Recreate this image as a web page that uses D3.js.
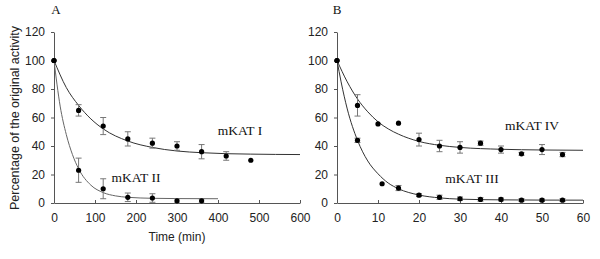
<!DOCTYPE html>
<html><head><meta charset="utf-8">
<script src="https://cdn.jsdelivr.net/npm/d3@7"></script>
<style>body{margin:0;background:#fff}svg{display:block}</style>
</head><body>
<svg id="c" width="600" height="259"></svg>
<script>
// Panel A data (time in min)
const timeA1 = [0, 60, 120, 180, 240, 300, 360, 420, 480];
const kat1 = [100, 65, 54, 45, 42, 40, 36, 33, 30];
const kat1Err = [0, 4, 6, 5, 3.5, 3, 5, 3, 0];
const timeA2 = [0, 60, 120, 180, 240, 300, 360];
const kat2 = [100, 23, 10, 4, 3.5, 1.5, 1.5];
const kat2Err = [0, 8.5, 7, 3, 3, 1.5, 1.5];
// fitted curves
const fitA1T = [0, 30, 60, 90, 120, 180, 240, 300, 360, 420, 480, 540, 600];
const fitA1V = [100, 81, 68.5, 59, 52, 43.5, 39, 36.5, 35.3, 34.6, 34.3, 34.1, 34];
const fitA2T = [0, 15, 30, 45, 60, 90, 120, 150, 180, 240, 300, 400];
const fitA2V = [100, 68, 48, 34, 24, 12.5, 7.3, 5, 4, 3.3, 3.1, 3];
// Panel B data
const timeB4 = [0, 5, 10, 15, 20, 25, 30, 35, 40, 45, 50, 55];
const kat4 = [100, 68.5, 55.5, 56, 44.5, 40, 39, 42, 37.5, 34.5, 37.5, 34];
const kat4Err = [0, 7.5, 0, 0, 4.5, 4, 4, 1.5, 2.5, 1, 3.5, 1.5];
const timeB3 = [0, 5, 11, 15, 20, 25, 30, 35, 40, 45, 50, 55];
const kat3 = [100, 44, 13.5, 10.5, 5.5, 4, 3, 2.5, 2.5, 2, 2, 2];
const kat3Err = [0, 1.5, 0, 1.8, 1, 1.5, 1.2, 1.2, 1, 1, 0.8, 1];
const fitB4T = [0, 2.5, 5, 7.5, 10, 12.5, 15, 20, 25, 30, 40, 50, 60];
const fitB4V = [100, 85, 73, 64, 57, 52, 48.3, 43.2, 40.5, 39, 37.7, 37.2, 37];
const fitB3T = [0, 1, 2.5, 5, 7.5, 10, 12.5, 15, 20, 25, 30, 40, 50, 60];
const fitB3V = [100, 85, 66, 44, 29.5, 20.5, 14, 10, 5.6, 3.6, 2.7, 2.2, 2.05, 2];
const yTicks = [0, 20, 40, 60, 80, 100, 120];
const xTicksA = [0, 100, 200, 300, 400, 500, 600];
const xTicksB = [0, 10, 20, 30, 40, 50, 60];

const svg = d3.select("#c");
const y = d3.scaleLinear().domain([0, 120]).range([203, 32]);
const xA = d3.scaleLinear().domain([0, 600]).range([54, 300]);
const xB = d3.scaleLinear().domain([0, 60]).range([337, 583]);
const sans = "Arial, Liberation Sans, sans-serif";

function axes(x, ticks) {
  const gx = svg.append("g").attr("transform", "translate(0,203)")
    .call(d3.axisBottom(x).tickValues(ticks).tickSize(-3).tickPadding(10).tickSizeOuter(0));
  const gy = svg.append("g").attr("transform", `translate(${x(0)},0)`)
    .call(d3.axisLeft(y).tickValues(yTicks).tickSize(3).tickPadding(6).tickSizeOuter(0));
  [gx, gy].forEach(g => {
    g.selectAll("path,line").attr("stroke", "#555").attr("stroke-width", 1);
    g.selectAll("text").attr("font-family", sans)
      .attr("font-size", 12).attr("fill", "#222");
  });
}
axes(xA, xTicksA);
axes(xB, xTicksB);

function curve(x, T, V, color) {
  const line = d3.line().x(d => x(d[0])).y(d => y(d[1])).curve(d3.curveMonotoneX);
  svg.append("path").datum(T.map((t, i) => [t, V[i]]))
    .attr("d", line).attr("fill", "none").attr("stroke", color).attr("stroke-width", 1);
}
function points(x, T, V, E) {
  const g = svg.append("g");
  T.forEach((t, i) => {
    if (E[i] > 0) {
      const cx = x(t), y1 = y(V[i] + E[i]), y2 = y(V[i] - E[i]);
      g.append("line").attr("x1", cx).attr("x2", cx).attr("y1", y1).attr("y2", y2)
        .attr("stroke", "#777").attr("stroke-width", 1);
      [y1, y2].forEach(yy => g.append("line").attr("x1", cx - 3).attr("x2", cx + 3)
        .attr("y1", yy).attr("y2", yy).attr("stroke", "#777").attr("stroke-width", 1));
    }
    g.append("circle").attr("cx", x(t)).attr("cy", y(V[i])).attr("r", 2.6).attr("fill", "#000");
  });
}
curve(xA, fitA1T, fitA1V, "#333");
curve(xA, fitA2T, fitA2V, "#666");
points(xA, timeA1, kat1, kat1Err);
points(xA, timeA2, kat2, kat2Err);
curve(xB, fitB4T, fitB4V, "#333");
curve(xB, fitB3T, fitB3V, "#333");
points(xB, timeB4, kat4, kat4Err);
points(xB, timeB3, kat3, kat3Err);

const serif = "Times New Roman, Liberation Serif, serif";
function label(txt, xx, yy, size) {
  svg.append("text").attr("x", xx).attr("y", yy).attr("text-anchor", "middle")
    .attr("font-family", serif).attr("font-size", size).attr("fill", "#111").text(txt);
}
label("A", 56, 14, 13);
label("B", 337, 14, 13);
label("mKAT I", 240, 135, 13.5);
label("mKAT II", 136, 182, 13.5);
label("mKAT IV", 532, 130, 13.5);
label("mKAT III", 472, 183, 13.5);

svg.append("text").attr("x", 177).attr("y", 241).attr("text-anchor", "middle")
  .attr("font-family", sans).attr("font-size", 12)
  .attr("fill", "#222").text("Time (min)");
svg.append("text").attr("transform", "translate(19,118) rotate(-90)").attr("text-anchor", "middle")
  .attr("font-family", sans).attr("font-size", 12.5)
  .attr("fill", "#222").text("Percentage of the original activity");
</script>
</body></html>
